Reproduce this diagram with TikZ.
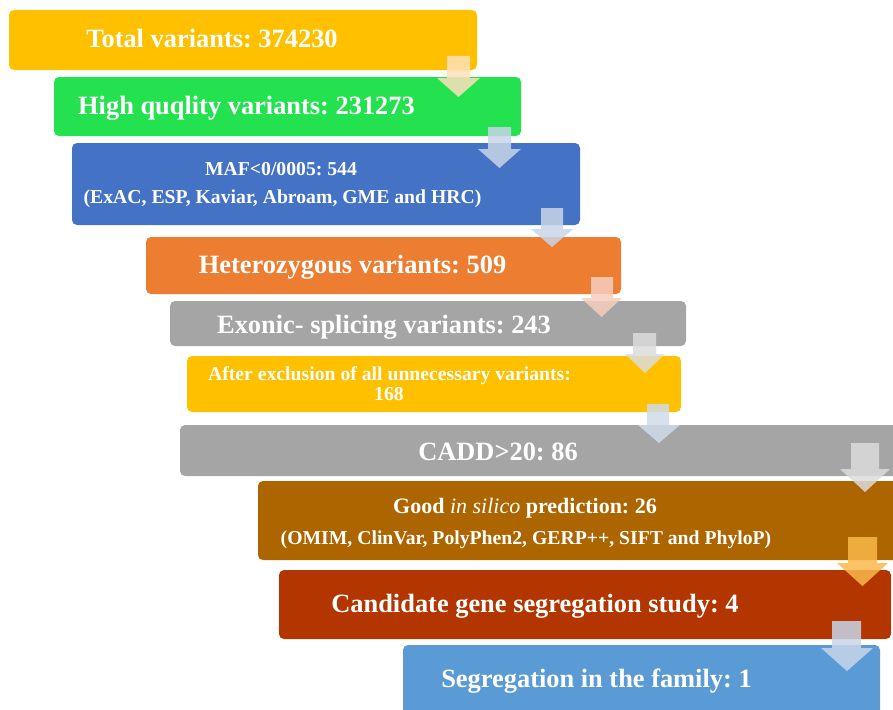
\documentclass[tikz,border=0pt]{standalone}
\usepackage{fontspec}
\setmainfont{Liberation Serif}
\frenchspacing
\definecolor{cYel}{HTML}{FFC000}
\definecolor{cGrn}{HTML}{24E24F}
\definecolor{cBlu}{HTML}{4472C4}
\definecolor{cOra}{HTML}{ED7D31}
\definecolor{cGry}{HTML}{A5A5A5}
\definecolor{cBrn}{HTML}{AD6500}
\definecolor{cRed}{HTML}{B33500}
\definecolor{cLbl}{HTML}{5B9BD5}
\definecolor{aPea}{HTML}{FEE0BA}
\definecolor{aBlu}{HTML}{C8D5E8}
\definecolor{aPnk}{HTML}{F6CEC0}
\definecolor{aGry}{HTML}{DCDCDC}
\definecolor{aLbl}{HTML}{D0DCEB}
\definecolor{aOra}{HTML}{FAB94B}
\tikzset{
  stagebox/.style={rounded corners=5pt, draw=none},
  big/.style={text=white, font=\fontsize{26.4}{30}\selectfont\bfseries\frenchspacing, anchor=base, inner sep=0pt},
  small/.style={text=white, font=\fontsize{19.7}{22}\selectfont\bfseries\frenchspacing, anchor=base, inner sep=0pt},
  blockarrow/.style={draw=none, fill opacity=0.85}
}
\newcommand\farrow[8]{%
  \fill[blockarrow, fill=#8] (#1,#3) -- (#2,#3) -- (#2,#6) -- (#5,#6) -- ({(#4+#5)/2},#7) -- (#4,#6) -- (#1,#6) -- cycle;}
\begin{document}
\begin{tikzpicture}[x=1pt,y=-1pt]
\useasboundingbox (0,0) rectangle (893,709);
\clip (0,0) rectangle (893,709);
% boxes
\fill[stagebox, cYel] (9,10) rectangle (477,70);
\fill[stagebox, cGrn] (54,77) rectangle (521,136);
\fill[stagebox, cBlu] (72,143) rectangle (580,225);
\fill[stagebox, cOra] (146,237) rectangle (621,294);
\fill[stagebox, cGry] (170,301) rectangle (686,346);
\fill[stagebox, cYel] (187,356) rectangle (681,412);
\fill[stagebox, cGry] (180,425) rectangle (905,476);
\fill[stagebox, cBrn] (258,481) rectangle (905,560);
\fill[stagebox, cRed] (279,570) rectangle (891,639);
\fill[stagebox, cLbl] (403,645) rectangle (880,720);
% texts
\node[big] (t1) at (212,48) {Total variants: 374230};
\node[big] (t2) at (246.5,114) {High quqlity variants: 231273};
\node[small] (t3a) at (281,175) {MAF<0/0005: 544};
\node[small] (t3b) at (282.5,203) {(ExAC, ESP, Kaviar, Abroam, GME and HRC)};
\node[big] (t4) at (352.5,273) {Heterozygous variants: 509};
\node[big] (t5) at (384,333) {Exonic- splicing variants: 243};
\node[small] (t6a) at (389.5,380) {After exclusion of all unnecessary variants:};
\node[small] (t6b) at (389,400) {168};
\node[big] (t7) at (498,460) {CADD>20: 86};
\node[text=white, font=\fontsize{22}{26}\selectfont\bfseries\frenchspacing, anchor=base, inner sep=0pt] (t8a) at (525,513) {Good {\mdseries\itshape in silico} prediction: 26};
\node[small] (t8b) at (526,544) {(OMIM, ClinVar, PolyPhen2, GERP++, SIFT and PhyloP)};
\node[big] (t9) at (535,612) {Candidate gene segregation study: 4};
\node[big] (t10) at (596.5,687) {Segregation in the family: 1};
% arrows
\farrow{447}{470}{56}{437}{480}{78}{97}{aPea}
\farrow{488}{511}{127}{478}{521}{149}{168}{aBlu}
\farrow{541}{563}{208}{531}{573}{229}{247}{aBlu}
\farrow{591}{613}{277}{581}{622}{298}{317}{aPnk}
\farrow{633}{656}{333}{625}{665}{354}{373}{aGry}
\farrow{647}{669}{404}{638}{680}{425}{443}{aLbl}
\farrow{851}{879}{443}{840}{890}{469}{492}{aGry}
\farrow{848}{877}{537}{837}{888}{563}{586}{aOra}
\farrow{832}{861}{621}{821}{873}{648}{671}{aBlu}
\end{tikzpicture}
\end{document}
